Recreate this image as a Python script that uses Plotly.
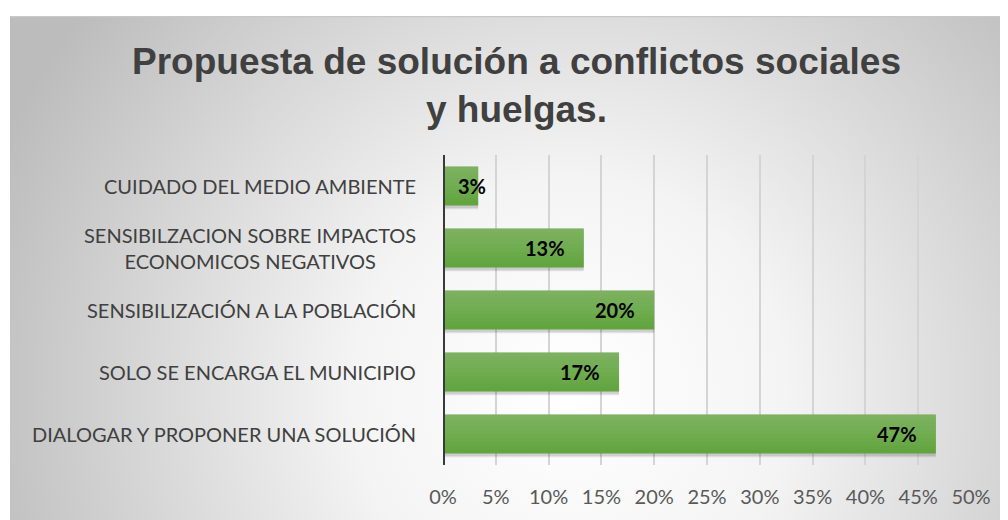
import base64
import plotly.graph_objects as go

categories = [
    "DIALOGAR Y PROPONER UNA SOLUCIÓN",
    "SOLO SE ENCARGA EL MUNICIPIO",
    "SENSIBILIZACIÓN A LA POBLACIÓN",
    "SENSIBILZACION SOBRE IMPACTOS<br>ECONOMICOS NEGATIVOS",
    "CUIDADO DEL MEDIO AMBIENTE",
]
values = [46.67, 16.67, 20.0, 13.33, 3.33]
value_labels = ["47%", "17%", "20%", "13%", "3%"]
x_ticks = [0, 5, 10, 15, 20, 25, 30, 35, 40, 45, 50]
x_tick_labels = [f"{t}%" for t in x_ticks]
title = "Propuesta de solución a conflictos sociales<br>y huelgas."

# page body has an 8px margin; figure is sized to fill the rest of the window
OFF = 8
W, H = 1008 - OFF, 520 - OFF
ML, MR, MT, MB = 443 - OFF, 37, 155 - OFF, 53
PW, PH = W - ML - MR, H - MT - MB

# background gradient (SVG)
fx0, fy0 = 10 - OFF, 15 - OFF
fw, fh = 1010, 510
svg = f'''<svg xmlns="http://www.w3.org/2000/svg" width="{fw}" height="{fh}" viewBox="0 0 {fw} {fh}">
<defs><radialGradient id="g" gradientUnits="userSpaceOnUse" cx="560" cy="380" r="620">
<stop offset="0" stop-color="#ffffff"/><stop offset="0.35" stop-color="#f4f4f4"/><stop offset="1" stop-color="#bcbcbc"/></radialGradient></defs>
<rect x="0" y="0" width="{fw}" height="{fh}" fill="url(#g)"/>
<line x1="0" y1="0.5" x2="{fw}" y2="0.5" stroke="#c8c8c8" stroke-width="1.5"/>
</svg>'''
src = "data:image/svg+xml;base64," + base64.b64encode(svg.encode()).decode()


def px_to_paper_x(p):
    return (p - ML) / PW


def px_to_paper_y(p):
    return (H - MB - p) / PH


fig = go.Figure()

BAR_W = 0.63
TOP = BAR_W / 2

# soft shadow under bars
fig.add_trace(go.Bar(
    y=categories, x=values, orientation="h",
    marker=dict(color="rgba(0,0,0,0.10)", line=dict(width=0)),
    offset=-0.375, width=0.65, hoverinfo="skip", showlegend=False,
))
fig.add_trace(go.Bar(
    y=categories, x=values, orientation="h",
    marker=dict(color="rgba(0,0,0,0.08)", line=dict(width=0)),
    offset=-0.355, width=0.64, hoverinfo="skip", showlegend=False,
))
# main bar (darker base)
fig.add_trace(go.Bar(
    y=categories, x=values, orientation="h",
    marker=dict(color="#5fa23a", line=dict(width=0)),
    offset=-TOP, width=BAR_W, showlegend=False,
))
# light layers anchored at the top edge -> vertical gradient
N = 10
for k in range(1, N + 1):
    w = BAR_W * k / N
    fig.add_trace(go.Bar(
        y=categories, x=values, orientation="h",
        marker=dict(color="rgba(255,255,255,0.022)", line=dict(width=0)),
        offset=TOP - w, width=w, hoverinfo="skip", showlegend=False,
    ))
fig.update_layout(barmode="overlay")

# value labels
for c, v, t in zip(categories, values, value_labels):
    fig.add_annotation(x=max(v - 1.6, 4.26), y=c, text=f"<b>{t}</b>", showarrow=False,
                       xanchor="right", yanchor="middle",
                       font=dict(family="Lato", size=20, color="#000000"))

# category labels (centered multi-line)
for c in categories:
    fig.add_annotation(x=0, xref="paper", y=c, text=c, showarrow=False,
                       xanchor="right", yanchor="middle", xshift=-25, align="center",
                       font=dict(family="Lato", size=20, color="#404040"))

fig.add_layout_image(dict(
    source=src, xref="paper", yref="paper",
    x=px_to_paper_x(fx0), y=px_to_paper_y(fy0),
    sizex=fw / PW, sizey=fh / PH, sizing="stretch",
    xanchor="left", yanchor="top", layer="below",
))

fig.update_layout(
    width=W, height=H,
    margin=dict(l=ML, r=MR, t=MT, b=MB),
    paper_bgcolor="#ffffff", plot_bgcolor="rgba(0,0,0,0)",
    title=dict(text=f"<b>{title}</b>", x=(516.5 - OFF) / W, xanchor="center",
               y=1 - 66 / H, yanchor="top",
               font=dict(family="Liberation Sans", size=37, color="#404040")),
    xaxis=dict(range=[0, 50], tickvals=x_ticks, ticktext=x_tick_labels,
               showgrid=True, gridcolor="#d4d4d4", gridwidth=1.5,
               zeroline=False, showline=False, ticks="",
               tickfont=dict(family="Lato", size=20, color="#595959"),
               ticklabelstandoff=18, fixedrange=True),
    yaxis=dict(categoryorder="array", categoryarray=categories,
               showticklabels=False, showgrid=False, zeroline=False,
               showline=False, range=[-0.5, 4.5], fixedrange=True),
    shapes=[dict(type="line", xref="x", yref="paper", x0=0, x1=0, y0=0, y1=1,
                 line=dict(color="#3a3a3a", width=4), layer="above")],
    showlegend=False,
)

fig.write_html("out.html")
